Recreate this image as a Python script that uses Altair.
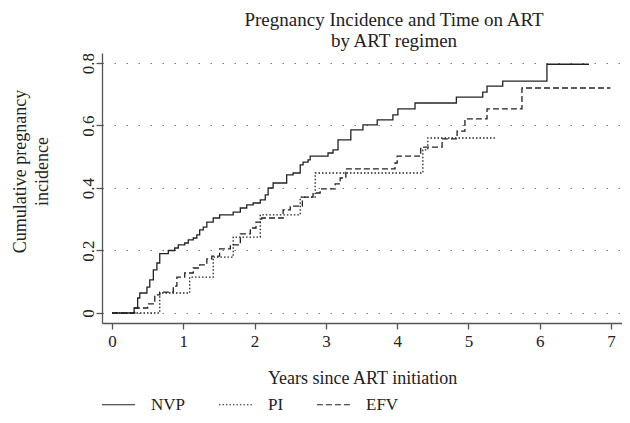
import altair as alt
import pandas as pd

# Kaplan-Meier style cumulative incidence steps (time in years, cumulative incidence)
nvp_t = [0, 0.31, 0.36, 0.39, 0.49, 0.53, 0.58, 0.63, 0.67, 0.79, 0.88, 0.93, 1.02, 1.07,
         1.14, 1.19, 1.23, 1.28, 1.33, 1.42, 1.51, 1.70, 1.80, 1.89, 1.98, 2.08, 2.15, 2.19,
         2.26, 2.45, 2.54, 2.64, 2.68, 2.75, 2.78, 3.03, 3.10, 3.17, 3.35, 3.52, 3.72, 3.94,
         4.01, 4.25, 4.83, 5.20, 5.26, 5.48, 6.10, 6.69]
nvp_y = [0, 0.016, 0.048, 0.064, 0.083, 0.106, 0.138, 0.160, 0.190, 0.200, 0.208, 0.218,
         0.224, 0.234, 0.240, 0.250, 0.266, 0.275, 0.291, 0.304, 0.314, 0.323, 0.336, 0.346,
         0.352, 0.362, 0.378, 0.400, 0.416, 0.442, 0.448, 0.474, 0.483, 0.490, 0.502, 0.512,
         0.522, 0.554, 0.586, 0.602, 0.618, 0.634, 0.653, 0.672, 0.691, 0.707, 0.726, 0.742,
         0.796, 0.796]

pi_t = [0, 0.67, 1.09, 1.42, 1.70, 2.08, 2.64, 2.85, 4.36, 4.43, 5.37]
pi_y = [0, 0.064, 0.115, 0.179, 0.243, 0.314, 0.371, 0.448, 0.522, 0.560, 0.560]

efv_t = [0, 0.32, 0.50, 0.60, 0.67, 0.86, 0.91, 1.02, 1.14, 1.23, 1.33, 1.40, 1.51, 1.66,
         1.80, 1.94, 2.02, 2.10, 2.40, 2.50, 2.67, 2.82, 2.92, 3.13, 3.20, 3.28, 3.97, 4.00,
         4.33, 4.63, 4.84, 4.95, 5.26, 5.75, 6.99]
efv_y = [0, 0.016, 0.029, 0.058, 0.067, 0.086, 0.115, 0.128, 0.144, 0.154, 0.173, 0.182,
         0.205, 0.218, 0.253, 0.272, 0.291, 0.304, 0.330, 0.342, 0.371, 0.384, 0.397, 0.413,
         0.432, 0.461, 0.480, 0.502, 0.531, 0.557, 0.582, 0.621, 0.653, 0.720, 0.720]

regimens = ["NVP", "PI", "EFV"]
x_ticks = [0, 1, 2, 3, 4, 5, 6, 7]
y_ticks = [0, 0.2, 0.4, 0.6, 0.8]

rows = []
for name, ts, ys in [("NVP", nvp_t, nvp_y), ("PI", pi_t, pi_y), ("EFV", efv_t, efv_y)]:
    for i, (t, y) in enumerate(zip(ts, ys)):
        rows.append({"t": t, "y": y, "regimen": name, "i": i})
df = pd.DataFrame(rows)

FONT = "Liberation Serif"

chart = alt.Chart(df).mark_line(
    interpolate="step-after", color="#222222", strokeWidth=1.3
).encode(
    x=alt.X("t:Q",
            scale=alt.Scale(domain=[-0.14, 7.153], nice=False, zero=False),
            axis=alt.Axis(values=x_ticks, format="d", grid=False,
                          labelPadding=4,
                          title="Years since ART initiation",
                          titleY=60, titleBaseline="alphabetic")),
    y=alt.Y("y:Q",
            scale=alt.Scale(domain=[-0.032, 0.832], nice=False, zero=False),
            axis=alt.Axis(values=y_ticks, format=".1~f", grid=True,
                          gridDash=[1.5, 10.5], gridColor="#777777", gridWidth=1.2,
                          labelAngle=270, labelAlign="center", labelBaseline="alphabetic",
                          labelPadding=3,
                          title=["Cumulative pregnancy", "incidence"],
                          titleAngle=270, titleX=-91, titleY=118,
                          titleBaseline="top", titleAlign="center", titleLineHeight=22)),
    strokeDash=alt.StrokeDash("regimen:N",
        scale=alt.Scale(domain=regimens, range=[[1, 0], [1.5, 2], [6, 3]]),
        legend=alt.Legend(orient="none", legendX=-1, legendY=334, direction="horizontal",
                          title=None, symbolType="stroke", symbolSize=1100,
                          symbolStrokeWidth=1.2, symbolStrokeColor="#222222",
                          labelFont=FONT, labelFontSize=17, labelColor="#222222",
                          labelOffset=15, columnPadding=30)),
    detail="regimen:N",
    order="i:Q",
).properties(
    width=520, height=270,
    autosize=alt.AutoSizeParams(type="none"),
    padding={"left": 94, "top": 45, "right": 0, "bottom": 100},
    title=alt.Title(["Pregnancy Incidence and Time on ART", "by ART regimen"],
                    font=FONT, fontSize=19, fontWeight="normal", color="#222222",
                    anchor="middle", dx=32, offset=1, lineHeight=21),
).configure_view(stroke=None).configure_axis(
    labelFont=FONT, titleFont=FONT, labelFontSize=17, titleFontSize=18,
    titleFontWeight="normal", labelColor="#222222", titleColor="#222222",
    domainColor="#555555", domainWidth=1.3, tickColor="#555555", tickWidth=1.3,
    tickSize=6,
)

chart.save("out.html", embed_options={"renderer": "svg", "actions": False})
